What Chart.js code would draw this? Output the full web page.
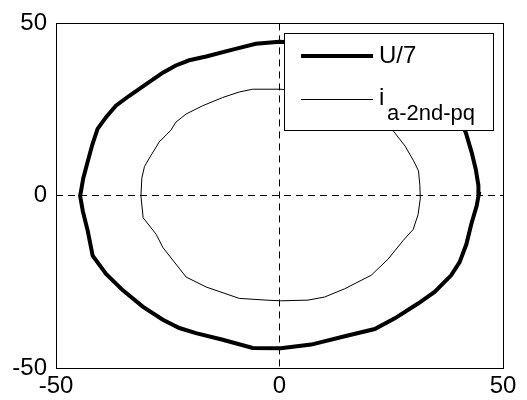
<!DOCTYPE html>
<html>
<head>
<meta charset="utf-8">
<script src="https://cdn.jsdelivr.net/npm/chart.js@4"></script>
<style>
  html, body { margin: 0; padding: 0; background: #fff; }
  #wrap { width: 527px; height: 400px; }
</style>
</head>
<body>
<div id="wrap"><canvas id="chart"></canvas></div>
<script>
// ==================== DATA ====================
// U/7 (thick loop)
const uX = [0.0, -5.3, -10.5, -16.4, -20.2, -23.2, -26.1, -29.9, -33.6, -36.6, -38.8, -40.7, -41.9, -42.9, -43.9, -44.6,
            -44.0, -42.9, -41.8, -38.8, -35.1, -30.6, -26.1, -22.4, -18.7, -12.7, -6.0, 0.3,
            7.1, 14.6, 21.3, 25.8, 31.0, 34.7, 38.4, 40.3, 41.8, 42.9, 44.1, 44.6, 44.5, 43.9, 43.0, 41.7,
            40.0, 36.0, 30.0, 22.0, 12.0, 5.0, 0.0];
const uY = [44.7, 44.1, 42.4, 40.4, 39.3, 37.8, 35.7, 32.3, 29.0, 26.1, 22.8, 19.4, 14.7, 9.9, 5.1, -0.1,
            -4.5, -10.2, -17.4, -22.7, -27.4, -32.2, -36.0, -38.4, -39.9, -41.8, -44.2, -44.3,
            -43.2, -40.8, -38.7, -35.6, -31.3, -27.9, -23.1, -19.3, -14.1, -8.3, -3.0, 0.5, 3.0, 7.7, 12.5, 18.2,
            24.0, 30.0, 35.5, 39.5, 42.5, 44.3, 44.7];

// i a-2nd-pq (thin loop)
const iX = [0.0, -6.0, -9.0, -12.7, -17.2, -20.9, -23.2, -24.3, -26.9, -28.7, -30.2, -30.8, -31.0,
            -30.5, -27.6, -26.1, -20.9, -16.4, -9.0, -3.0, 0.3,
            6.4, 10.1, 14.6, 20.5, 24.3, 27.6, 29.9, 31.0, 31.5, 31.4, 31.1, 30.0, 28.1, 25.5,
            23.0, 18.0, 12.0, 5.0, 0.0];
const iY = [30.9, 30.9, 30.1, 28.5, 26.1, 23.7, 21.3, 19.0, 15.6, 11.8, 8.5, 5.1, -0.1,
            -6.4, -11.2, -15.0, -23.6, -26.5, -29.8, -30.3, -30.5,
            -30.3, -29.4, -27.0, -23.1, -18.4, -13.1, -9.8, -5.5, -0.8, 3.0, 7.2, 10.1, 14.4, 18.7,
            21.5, 25.5, 28.5, 30.5, 30.9];

const axisMin = -50;
const axisMax = 50;
const tickStep = 50;

const FONT = "'Liberation Sans', Arial, Helvetica, sans-serif";

// ==================== PLUGINS ====================
// box around the plot + legend drawn inside the axes (matlab style)
const boxAndLegend = {
    id: 'boxAndLegend',
    afterDraw(chart) {
        const { ctx, chartArea: a } = chart;
        ctx.save();

        // legend
        const lx = 284, ly = 33, lw = 209, lh = 97;
        ctx.fillStyle = '#fff';
        ctx.fillRect(lx, ly, lw, lh);
        ctx.strokeStyle = '#000';
        ctx.lineWidth = 1;
        ctx.strokeRect(lx + 0.5, ly + 0.5, lw, lh);

        ctx.beginPath();
        ctx.lineWidth = 4;
        ctx.moveTo(301, 56);
        ctx.lineTo(373, 56);
        ctx.stroke();

        ctx.beginPath();
        ctx.lineWidth = 1;
        ctx.moveTo(301, 99.5);
        ctx.lineTo(373, 99.5);
        ctx.stroke();

        ctx.fillStyle = '#000';
        ctx.textBaseline = 'middle';
        ctx.textAlign = 'left';
        ctx.font = `24px ${FONT}`;
        ctx.fillText('U/7', 379, 56);
        ctx.fillText('i', 379, 98);
        ctx.font = `22px ${FONT}`;
        ctx.fillText('a-2nd-pq', 387, 114);

        // axes box
        ctx.lineWidth = 1;
        ctx.strokeRect(Math.round(a.left) + 0.5, Math.round(a.top) + 0.5,
            Math.round(a.right - a.left), Math.round(a.bottom - a.top));
        ctx.restore();
    }
};

// ==================== CHART ====================
const zeroGrid = (c) => (c.tick && c.tick.value === 0 ? '#000' : 'rgba(0,0,0,0)');

const ctx = document.getElementById('chart').getContext('2d');
new Chart(ctx, {
    type: 'scatter',
    data: {
        datasets: [
            {
                label: 'U/7',
                data: uX.map((x, k) => ({ x: x, y: uY[k] })),
                showLine: true,
                borderColor: '#000',
                borderWidth: 4,
                pointRadius: 0,
                tension: 0
            },
            {
                label: 'i a-2nd-pq',
                data: iX.map((x, k) => ({ x: x, y: iY[k] })),
                showLine: true,
                borderColor: '#000',
                borderWidth: 1,
                pointRadius: 0,
                tension: 0
            }
        ]
    },
    options: {
        responsive: true,
        maintainAspectRatio: false,
        animation: false,
        layout: { padding: { top: 19, right: 24, left: 0, bottom: 0 } },
        plugins: { legend: { display: false }, tooltip: { enabled: false } },
        scales: {
            x: {
                type: 'linear',
                min: axisMin, max: axisMax,
                afterFit: (s) => { s.height = 32; },
                ticks: { stepSize: tickStep, color: '#000', font: { size: 24, family: FONT }, padding: 4, maxRotation: 0 },
                grid: { color: zeroGrid, lineWidth: 1, drawTicks: false },
                border: { display: false, dash: [7, 5] }
            },
            y: {
                type: 'linear',
                min: axisMin, max: axisMax,
                afterFit: (s) => { s.width = 56; },
                ticks: { stepSize: tickStep, color: '#000', font: { size: 24, family: FONT }, padding: 9 },
                grid: { color: zeroGrid, lineWidth: 1, drawTicks: false },
                border: { display: false, dash: [7, 5] }
            }
        }
    },
    plugins: [boxAndLegend]
});
</script>
</body>
</html>
